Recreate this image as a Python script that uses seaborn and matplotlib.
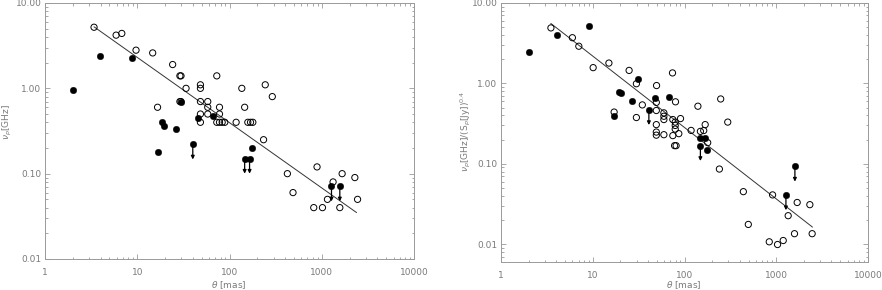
import numpy as np
import pandas as pd
import matplotlib
matplotlib.use("Agg")
import matplotlib.pyplot as plt
from matplotlib.ticker import LogLocator, NullFormatter, FixedLocator, FixedFormatter
import seaborn as sns

# ---------------- data: left panel (nu_p vs theta) ----------------
left_open_x = [3.4, 5.9, 6.8, 9.7, 14.7, 24.2, 29.0, 29.8, 33.8, 48.4, 48.4, 72.8,
               136, 244, 291, 16.6, 29.0, 29.8, 48.4, 58.1, 58.1, 77.9, 146,
               48.4, 58.1, 77.9, 48.4, 72.8, 77.9, 83.3, 88.9, 118, 158, 169, 179,
               234, 424, 889, 488, 1327, 1663, 2285, 1153, 2445, 819, 1018, 1570]
left_open_y = [5.2, 4.2, 4.4, 2.8, 2.6, 1.9, 1.4, 1.4, 1.0, 1.1, 1.0, 1.4,
               1.0, 1.1, 0.8, 0.6, 0.7, 0.7, 0.7, 0.7, 0.6, 0.6, 0.6,
               0.5, 0.5, 0.5, 0.4, 0.4, 0.4, 0.4, 0.4, 0.4, 0.4, 0.4, 0.4,
               0.25, 0.1, 0.12, 0.06, 0.08, 0.1, 0.09, 0.05, 0.05, 0.04, 0.04, 0.04]
left_fill_x = [2.0, 3.9, 8.8, 30.0, 18.4, 19.3, 26.4, 16.6, 46.0, 66.0, 176]
left_fill_y = [0.95, 2.4, 2.25, 0.69, 0.40, 0.36, 0.33, 0.18, 0.45, 0.47, 0.20]
left_limit_x = [40.0, 146, 165, 1275, 1570]
left_limit_y = [0.22, 0.15, 0.15, 0.071, 0.071]
left_fit_x = [3.4, 2384]
left_fit_y = [5.26, 0.035]

# ---------------- data: right panel (nu_p / S_p^0.4 vs theta) ----------------
right_open_x = [3.5, 6.0, 7.05, 10.1, 15.0, 24.9, 29.9, 49.6, 74.0, 17.1, 34.7, 49.3,
                79.8, 140, 248, 29.9, 49.3, 59.6, 59.6, 59.6, 49.3, 74.6, 90.5, 79.2,
                79.2, 79.2, 49.3, 49.3, 59.6, 74.6, 86.7, 118, 149, 162, 168, 296,
                78.0, 81.0, 179, 240, 438, 496, 912, 1349, 1691, 2324, 1581, 2462,
                839, 1033, 1191]
right_open_y = [4.9, 3.7, 2.9, 1.57, 1.79, 1.45, 0.99, 0.94, 1.35, 0.44, 0.54, 0.58,
                0.59, 0.52, 0.64, 0.376, 0.46, 0.43, 0.39, 0.355, 0.307, 0.355, 0.365, 0.33,
                0.30, 0.27, 0.248, 0.227, 0.23, 0.224, 0.237, 0.26, 0.253, 0.259, 0.307, 0.33,
                0.168, 0.168, 0.183, 0.086, 0.045, 0.0176, 0.041, 0.0226, 0.033, 0.031, 0.0135, 0.0135,
                0.0107, 0.0099, 0.0111]
right_fill_x = [2.02, 4.03, 9.05, 31.1, 19.2, 20.1, 26.9, 47.2, 67.5, 16.9, 149, 169, 178]
right_fill_y = [2.46, 4.02, 5.2, 1.14, 0.78, 0.77, 0.61, 0.66, 0.68, 0.39, 0.21, 0.21, 0.15]
right_limit_x = [40.9, 149, 1275, 1597]
right_limit_y = [0.47, 0.168, 0.041, 0.093]
right_fit_x = [3.49, 2483]
right_fit_y = [5.57, 0.0163]

x_ticks = [1, 10, 100, 1000, 10000]
x_ticklabels = ["1", "10", "100", "1000", "10000"]
y_ticks = [0.01, 0.1, 1, 10]
y_ticklabels = ["0.01", "0.10", "1.00", "10.00"]

sns.set_style("ticks")
plt.rcParams["font.family"] = ["Liberation Sans Narrow", "DejaVu Sans"]
plt.rcParams["mathtext.fontset"] = "dejavusans"

AX_COL = "#9a9a9a"
TXT_COL = "#7a7a7a"
FS = 6.5

fig = plt.figure(figsize=(8.82, 2.9), dpi=100)
ax1 = fig.add_axes([45 / 882, 1 - 259 / 290, 369 / 882, 256 / 290])
ax2 = fig.add_axes([501 / 882, 1 - 262 / 290, 367 / 882, 259 / 290])


def panel(ax, ox, oy, fx, fy, lx, ly, fitx, fity, ylim, afac, ylabel, ylab_pos, xlab_y):
    ax.set_xscale("log")
    ax.set_yscale("log")
    sns.lineplot(x=fitx, y=fity, ax=ax, color="#333333", lw=0.7, sort=False)
    sns.scatterplot(x=ox, y=oy, ax=ax, marker="o", s=20,
                    facecolor="none", edgecolor="black", linewidth=0.7, zorder=3)
    sns.scatterplot(x=list(fx) + list(lx), y=list(fy) + list(ly), ax=ax, marker="o",
                    s=22, color="black", edgecolor="black", linewidth=0.3, zorder=4)
    for xv, yv in zip(lx, ly):
        ax.annotate("", xy=(xv, yv / afac), xytext=(xv, yv),
                    arrowprops=dict(arrowstyle="-|>", color="black", lw=0.9,
                                    mutation_scale=5, shrinkA=0, shrinkB=0),
                    zorder=4)
    ax.set_xlim(1, 10000)
    ax.set_ylim(*ylim)
    ax.xaxis.set_major_locator(FixedLocator(x_ticks))
    ax.xaxis.set_major_formatter(FixedFormatter(x_ticklabels))
    ax.yaxis.set_major_locator(FixedLocator(y_ticks))
    ax.yaxis.set_major_formatter(FixedFormatter(y_ticklabels))
    ax.xaxis.set_minor_locator(LogLocator(base=10, subs=np.arange(2, 10), numticks=20))
    ax.yaxis.set_minor_locator(LogLocator(base=10, subs=np.arange(2, 10), numticks=20))
    ax.xaxis.set_minor_formatter(NullFormatter())
    ax.yaxis.set_minor_formatter(NullFormatter())
    ax.tick_params(which="both", direction="in", top=True, right=True,
                   color=AX_COL, labelcolor=TXT_COL, labelsize=FS, width=0.6)
    ax.tick_params(which="major", length=3.8)
    ax.tick_params(which="minor", length=1.8)
    ax.tick_params(axis="x", pad=6.5)
    ax.tick_params(axis="y", pad=2.5)
    for sp in ax.spines.values():
        sp.set_color(AX_COL)
        sp.set_linewidth(0.7)
        sp.set_visible(True)
    ax.set_xlabel(r"$\theta$ [mas]", fontsize=FS, color=TXT_COL)
    ax.xaxis.set_label_coords(0.497, xlab_y)
    ax.xaxis.label.set_va("center")
    ax.set_ylabel(ylabel, fontsize=FS, color=TXT_COL)
    ax.yaxis.set_label_coords(*ylab_pos)
    ax.yaxis.label.set_va("center")


panel(ax1, left_open_x, left_open_y, left_fill_x, left_fill_y, left_limit_x, left_limit_y,
      left_fit_x, left_fit_y, (0.01, 10), 1.5, r"$\nu_p$[GHz]", (-0.103, 0.535), -0.101)
panel(ax2, right_open_x, right_open_y, right_fill_x, right_fill_y, right_limit_x, right_limit_y,
      right_fit_x, right_fit_y, (0.006, 10), 1.55,
      r"$\nu_p$[GHz]/(S$_p$[Jy])$^{0.4}$", (-0.095, 0.506), -0.090)

fig.savefig("out.png", dpi=100)
